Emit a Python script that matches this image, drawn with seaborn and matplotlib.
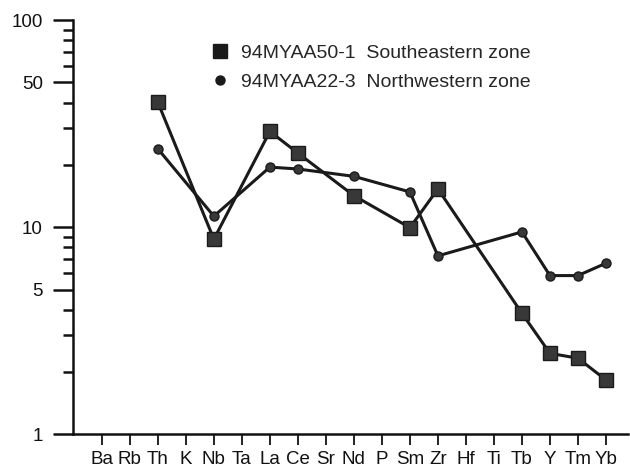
import matplotlib
matplotlib.use("Agg")
import matplotlib.pyplot as plt
from matplotlib.lines import Line2D
from matplotlib.ticker import FixedLocator, NullFormatter
import numpy as np
import pandas as pd
import seaborn as sns

# Spider-diagram elements along the x axis
elements = ["Ba", "Rb", "Th", "K", "Nb", "Ta", "La", "Ce", "Sr", "Nd",
            "P", "Sm", "Zr", "Hf", "Ti", "Tb", "Y", "Tm", "Yb"]

# Normalised abundances (only the analysed elements are plotted)
se_elements = ["Th", "Nb", "La", "Ce", "Nd", "Sm", "Zr", "Tb", "Y", "Tm", "Yb"]
se_values = [40.1, 8.75, 29.0, 22.8, 14.2, 9.95, 15.3, 3.84, 2.46, 2.33, 1.83]

nw_elements = ["Th", "Nb", "La", "Ce", "Nd", "Sm", "Zr", "Tb", "Y", "Tm", "Yb"]
nw_values = [23.9, 11.3, 19.5, 19.1, 17.6, 14.8, 7.27, 9.49, 5.84, 5.84, 6.70]

se_label = "94MYAA50-1  Southeastern zone"
nw_label = "94MYAA22-3  Northwestern zone"

y_major = [1, 5, 10, 50, 100]
y_minor = [2, 3, 4, 6, 7, 8, 9, 20, 30, 40, 60, 70, 80, 90]

pos = {e: i for i, e in enumerate(elements)}
se_df = pd.DataFrame({"x": [pos[e] for e in se_elements], "value": se_values})
nw_df = pd.DataFrame({"x": [pos[e] for e in nw_elements], "value": nw_values})

sns.set_style("white")
plt.rcParams["font.family"] = ["Liberation Sans", "DejaVu Sans"]

fig = plt.figure(figsize=(6.30, 4.67), dpi=100)
ax = fig.add_axes([0.1154, 0.070, 0.882, 0.887])

line_col = "#1a1a1a"
face_col = "#383838"

sns.lineplot(data=nw_df, x="x", y="value", ax=ax, color=line_col, lw=2.2,
             marker="o", markersize=6.5, markerfacecolor=face_col,
             markeredgecolor=line_col, markeredgewidth=1.0, sort=False)
sns.lineplot(data=se_df, x="x", y="value", ax=ax, color=line_col, lw=2.2,
             marker="s", markersize=10.5, markerfacecolor=face_col,
             markeredgecolor=line_col, markeredgewidth=1.0, sort=False)

ax.set_yscale("log")
ax.set_ylim(1, 100)
ax.set_xlim(-1.04, 18.8)

ax.yaxis.set_major_locator(FixedLocator(y_major))
ax.yaxis.set_minor_locator(FixedLocator(y_minor))
ax.yaxis.set_minor_formatter(NullFormatter())
ax.set_yticklabels([str(v) for v in y_major])

ax.set_xticks(range(len(elements)))
ax.set_xticklabels(elements)

ax.set_xlabel("")
ax.set_ylabel("")

for side in ["top", "right"]:
    ax.spines[side].set_visible(False)
for side in ["left", "bottom"]:
    ax.spines[side].set_linewidth(1.8)
    ax.spines[side].set_color("#111111")

ax.tick_params(axis="y", which="major", left=True, direction="out",
               length=14.5, width=1.8, labelsize=13.5, pad=7,
               colors="#111111")
ax.tick_params(axis="y", which="minor", left=True, direction="out",
               length=7, width=1.8, colors="#111111")
ax.tick_params(axis="x", which="major", bottom=True, direction="out",
               length=8, width=1.3, labelsize=13.5, pad=4, colors="#111111")
ax.tick_params(axis="x", which="minor", bottom=False, length=0)

handles = [
    Line2D([], [], linestyle="none", marker="s", markersize=10.5,
           markerfacecolor="#1a1a1a", markeredgecolor="#1a1a1a"),
    Line2D([], [], linestyle="none", marker="o", markersize=6.5,
           markerfacecolor="#1a1a1a", markeredgecolor="#1a1a1a"),
]
ax.legend(handles, [se_label, nw_label], loc="upper left",
          bbox_to_anchor=(210 / 630, 1 - 44 / 467),
          bbox_transform=fig.transFigure, frameon=False,
          fontsize=14, handletextpad=0.6, handlelength=1.0,
          labelspacing=0.6, borderaxespad=0, borderpad=0)

fig.savefig("out.png", dpi=100)
